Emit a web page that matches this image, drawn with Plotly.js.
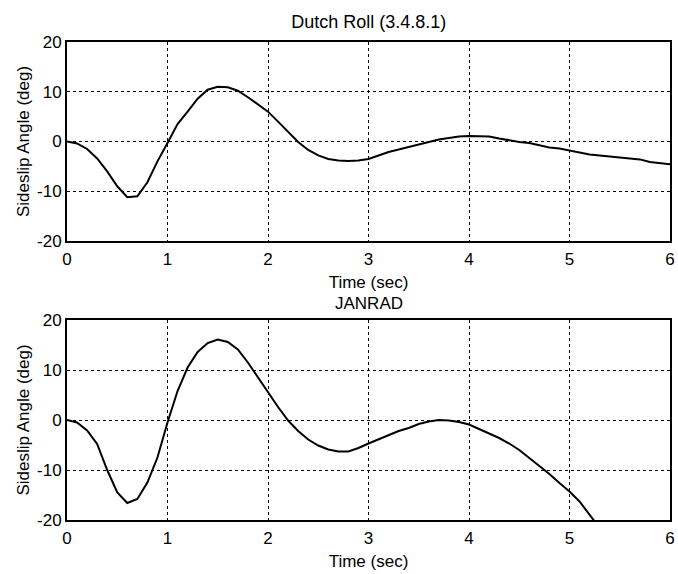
<!DOCTYPE html>
<html>
<head>
<meta charset="utf-8">
<script src="https://cdn.plot.ly/plotly-3.0.1.min.js"></script>
<style>
  html, body { margin: 0; padding: 0; background: #fff; }
  #grafico { width: 678px; height: 574px; }
</style>
</head>
<body>
<div id="grafico"></div>
<script>
// Dutch Roll (3.4.8.1) - sideslip response
const tiempoRef = [0, 0.1, 0.2, 0.3, 0.4, 0.5, 0.6, 0.7, 0.8, 0.9,
    1.0, 1.1, 1.2, 1.3, 1.4, 1.5, 1.6, 1.7, 1.8, 1.9,
    2.0, 2.1, 2.2, 2.3, 2.4, 2.5, 2.6, 2.7, 2.8, 2.9,
    3.0, 3.1, 3.2, 3.3, 3.4, 3.5, 3.6, 3.7, 3.8, 3.9,
    4.0, 4.1, 4.2, 4.3, 4.4, 4.5, 4.6, 4.7, 4.8, 4.9,
    5.0, 5.1, 5.2, 5.3, 5.4, 5.5, 5.6, 5.7, 5.8, 5.9, 6.0];
const betaRef = [0, -0.4, -1.5, -3.4, -6.0, -9.0, -11.2, -11.0, -8.2, -4.0,
    -0.3, 3.5, 6.0, 8.6, 10.4, 11.0, 10.9, 10.2, 8.9, 7.5,
    6.0, 4.0, 2.0, -0.1, -1.7, -2.8, -3.5, -3.8, -3.9, -3.8,
    -3.5, -2.8, -2.1, -1.6, -1.1, -0.5, 0.0, 0.4, 0.7, 1.0,
    1.1, 1.1, 1.0, 0.6, 0.2, -0.1, -0.3, -0.8, -1.2, -1.4,
    -1.8, -2.3, -2.6, -2.8, -3.0, -3.1, -3.3, -3.6, -4.1, -4.4, -4.6];

// JANRAD
const tiempoJan = [0, 0.1, 0.2, 0.3, 0.4, 0.5, 0.6, 0.7, 0.8, 0.9,
    1.0, 1.1, 1.2, 1.3, 1.4, 1.5, 1.6, 1.7, 1.8, 1.9,
    2.0, 2.1, 2.2, 2.3, 2.4, 2.5, 2.6, 2.7, 2.8, 2.9,
    3.0, 3.1, 3.2, 3.3, 3.4, 3.5, 3.6, 3.7, 3.8, 3.9,
    4.0, 4.1, 4.2, 4.3, 4.4, 4.5, 4.6, 4.7, 4.8, 4.9,
    5.0, 5.1, 5.2, 5.3];
const betaJan = [0, -0.5, -2.1, -4.8, -10.0, -14.5, -16.6, -15.8, -12.5, -7.5,
    -0.5, 5.8, 10.5, 13.6, 15.4, 16.1, 15.6, 14.1, 11.5, 8.5,
    5.6, 2.6, -0.1, -2.2, -3.9, -5.1, -5.9, -6.3, -6.3, -5.6,
    -4.7, -3.9, -3.1, -2.2, -1.6, -0.8, -0.3, 0.0, -0.1, -0.4,
    -0.9, -1.8, -2.7, -3.6, -4.7, -6.0, -7.6, -9.2, -10.8, -12.6,
    -14.3, -16.3, -18.8, -21.6];

const ticksX = [0, 1, 2, 3, 4, 5, 6];
const ticksY = [-20, -10, 0, 10, 20];
const etiquetasY = ['-20', '-10', '0', '10', '20'];

const fuente = { family: 'Arial, "Liberation Sans", sans-serif', size: 17, color: '#000' };
const fuenteTitulo = { family: fuente.family, size: 18, color: '#000' };

function ejeX(anchor) {
    return {
        anchor: anchor,
        range: [0, 6],
        tickvals: ticksX,
        showgrid: true,
        gridcolor: '#000',
        griddash: 'dot',
        gridwidth: 1,
        showline: true,
        linecolor: '#000',
        linewidth: 2,
        mirror: true,
        ticks: '',
        ticklabelstandoff: 2,
        zeroline: false,
        tickfont: fuente,
        title: { text: 'Time (sec)', font: fuente, standoff: 8 }
    };
}

function ejeY(anchor, dominio) {
    return {
        anchor: anchor,
        domain: dominio,
        range: [-20, 20],
        tickvals: ticksY,
        ticktext: etiquetasY,
        showgrid: true,
        gridcolor: '#000',
        griddash: 'dot',
        gridwidth: 1,
        showline: true,
        linecolor: '#000',
        linewidth: 2,
        mirror: true,
        ticks: '',
        zeroline: false,
        tickfont: fuente,
        title: { text: 'Sideslip Angle (deg)', font: fuente, standoff: 3 }
    };
}

var trazoRef = {
    x: tiempoRef,
    y: betaRef,
    xaxis: 'x',
    yaxis: 'y',
    mode: 'lines',
    type: 'scatter',
    line: { color: '#000', width: 2 },
    name: 'Dutch Roll'
};

var trazoJan = {
    x: tiempoJan,
    y: betaJan,
    xaxis: 'x2',
    yaxis: 'y2',
    mode: 'lines',
    type: 'scatter',
    line: { color: '#000', width: 2 },
    name: 'JANRAD'
};

var layout = {
    width: 678,
    height: 574,
    margin: { l: 67, r: 8, t: 42, b: 54 },
    paper_bgcolor: '#fff',
    plot_bgcolor: '#fff',
    showlegend: false,
    font: fuente,
    title: {
        text: 'Dutch Roll (3.4.8.1)',
        font: fuenteTitulo,
        x: 0.544,
        xanchor: 'center',
        y: 0.962,
        yanchor: 'middle'
    },
    xaxis: ejeX('y'),
    yaxis: ejeY('x', [0.5837, 1]),
    xaxis2: ejeX('y2'),
    yaxis2: ejeY('x2', [0, 0.4184]),
    annotations: [{
        text: 'JANRAD',
        xref: 'paper',
        yref: 'paper',
        x: 0.5,
        y: 0.4184,
        yshift: 17,
        xanchor: 'center',
        yanchor: 'middle',
        showarrow: false,
        font: fuente
    }]
};

Plotly.newPlot('grafico', [trazoRef, trazoJan], layout, { displayModeBar: false });
</script>
</body>
</html>
